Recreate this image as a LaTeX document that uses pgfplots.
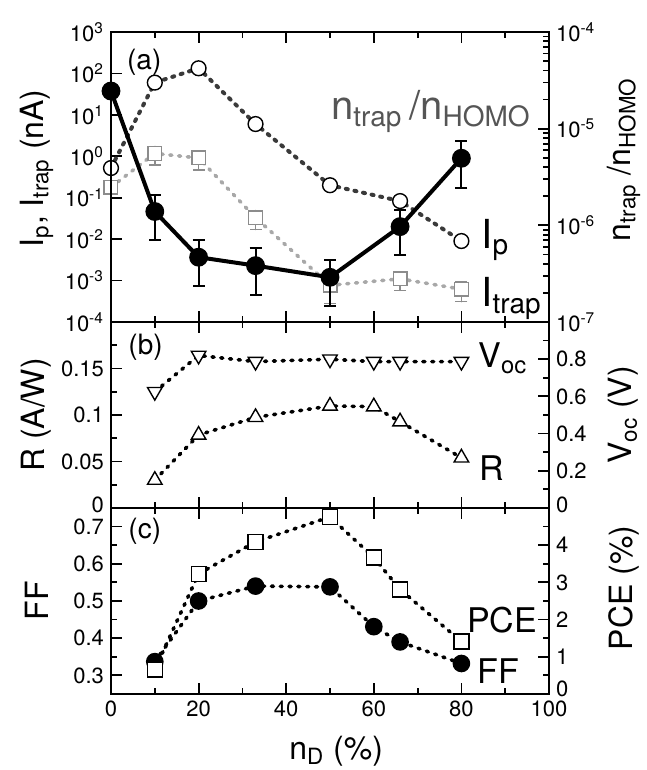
\documentclass[border=0pt]{standalone}
\usepackage{fontspec}
\setmainfont{TeX Gyre Heros}
\usepackage{pgfplots}
\pgfplotsset{compat=1.18}
\definecolor{ipgray}{HTML}{3A3A3A}
\definecolor{trapline}{HTML}{A8A8A8}
\definecolor{trapmark}{HTML}{8C8C8C}
\definecolor{labgray}{HTML}{555555}
\newcommand{\upzero}{\smash{\raisebox{-2.2pt}{0}}}
\newcommand{\upzerob}{\smash{\raisebox{-1.4pt}{0}}}
\tikzset{
  ann/.style={font=\fontsize{15}{17}\selectfont, inner sep=0pt},
  dotline/.style={line width=1.8pt, dash pattern=on 1pt off 3.4pt, line cap=round},
}
\pgfplotsset{
  panel/.style={
    scale only axis, width=219pt, xmin=0, xmax=100,
    xtick={0,20,...,100}, minor xtick={10,30,...,90},
    tick align=inside, major tick length=5.5pt, minor tick length=3pt,
    axis line style={line width=1pt},
    every tick/.style={black, line width=0.9pt},
    tick label style={font=\fontsize{11}{13}\selectfont, inner ysep=0.5pt},
    xticklabel style={yshift=-2.8pt},
    label style={font=\fontsize{16}{18}\selectfont},
    /pgf/number format/assume math mode=true,
    scaled ticks=false,
    clip=false,
  },
  leftax/.style={panel, ytick pos=left,
    ylabel style={at={(rel axis cs:-0.17,0.5)}, anchor=center}},
  rightax/.style={panel, ytick pos=right, yticklabel pos=right,
    xtick=\empty, minor xtick={},
    ylabel style={at={(rel axis cs:1.17,0.5)}, anchor=center}},
}
\begin{document}
\begin{tikzpicture}
\path[use as bounding box] (0,0) rectangle (323.5pt,385pt);

% ---------------- panel (a) left ----------------
\begin{axis}[leftax, at={(55.5pt,224pt)}, anchor=south west, height=145pt,
  ymode=log, ymin=1e-4, ymax=1e3,
  ytick={1e-4,1e-3,1e-2,1e-1,1,1e1,1e2,1e3},
  yticklabels={10\textsuperscript{-4},10\textsuperscript{-3},10\textsuperscript{-2},10\textsuperscript{-1},10\textsuperscript{0},10\textsuperscript{1},10\textsuperscript{2},10\textsuperscript{3}},
  yminorticks=false, xticklabels={},
  ylabel={I\textsubscript{p}, I\textsubscript{trap} (nA)},
  ylabel style={at={(rel axis cs:-0.17,0.53)}}]
\addplot[trapline, dotline, mark=square*,
  mark options={solid, draw=trapmark, fill=white, line width=0.7pt, mark size=3.4pt},
  error bars/.cd, y dir=both, y explicit,
  error bar style={solid, trapmark, line width=0.8pt},
  error mark options={rotate=90, trapmark, mark size=3pt, line width=0.8pt, solid}]
  coordinates {
  (0,0.18) +- (0,0)
  (10,1.17) +- (0,0.55)
  (20,0.91) +- (0,0.44)
  (33,0.033) +- (0,0.016)
  (50,0.00077) +- (0,0.00049)
  (66,0.0011) +- (0,0.00052)
  (80,0.00062) +- (0,0.00031)
  };
\addplot[ipgray, dotline, line width=2pt, mark=*,
  mark options={solid, draw=black, fill=white, line width=0.7pt, mark size=3.7pt}]
  coordinates {(0,0.52)(10,60)(20,133)(33,6)(50,0.2)(66,0.083)(80,0.009)};
\node[ann, anchor=west, font=\fontsize{14}{16}\selectfont] at (rel axis cs:0.036,0.897) {(a)};
\node[ann, anchor=base west, font=\fontsize{20}{22}\selectfont] at (rel axis cs:0.845,0.255) {I\textsubscript{p}};
\node[ann, anchor=base west, font=\fontsize{20}{22}\selectfont] at (rel axis cs:0.845,0.052) {I\textsubscript{trap}};
\node[ann, anchor=base east, text=labgray, font=\fontsize{20}{22}\selectfont] at (rel axis cs:0.959,0.697) {n\textsubscript{trap}\,/n\textsubscript{HOMO}};
\end{axis}

% ---------------- panel (a) right ----------------
\begin{axis}[rightax, at={(55.5pt,224pt)}, anchor=south west, height=145pt,
  ymode=log, ymin=1e-7, ymax=1e-4,
  ytick={1e-7,1e-6,1e-5,1e-4},
  yticklabels={10\textsuperscript{-7},10\textsuperscript{-6},10\textsuperscript{-5},10\textsuperscript{-4}},
  ylabel={n\textsubscript{trap} /n\textsubscript{HOMO}},
  ylabel style={at={(rel axis cs:1.17,0.56)}, font=\fontsize{16}{18}\selectfont}]
\addplot[black, line width=2pt, mark=*, mark options={solid, mark size=3.7pt},
  error bars/.cd, y dir=both, y explicit,
  error bar style={line width=1pt, black},
  error mark options={rotate=90, black, mark size=3pt, line width=1pt}]
  coordinates {
  (0,2.45e-5) +- (0,0)
  (10,1.39e-6) +- (0,0.68e-6)
  (20,4.68e-7) +- (0,2.35e-7)
  (33,3.83e-7) +- (0,1.93e-7)
  (50,2.9e-7) +- (0,1.43e-7)
  (66,9.7e-7) +- (0,4.8e-7)
  (80,4.94e-6) +- (0,2.5e-6)
  };
\end{axis}

% ---------------- panel (b) left ----------------
\begin{axis}[leftax, at={(55.5pt,131pt)}, anchor=south west, height=93pt,
  ymin=0, ymax=0.2, ytick={0,0.05,0.1,0.15}, yticklabels={\upzero,0.05,0.1,0.15},
  minor ytick={0.025,0.075,0.125,0.175}, xticklabels={},
  ylabel={R (A/W)}]
\addplot[black, dotline, mark=triangle*,
  mark options={solid, draw=black, fill=white, line width=0.7pt, mark size=4.2pt}]
  coordinates {(10,0.030)(20,0.0785)(33,0.0975)(50,0.1097)(60,0.109)(66,0.0928)(80,0.054)};
\node[ann, anchor=west, font=\fontsize{14}{16}\selectfont] at (rel axis cs:0.039,0.866) {(b)};
\node[ann, anchor=base west, font=\fontsize{17}{19}\selectfont] at (rel axis cs:0.838,0.753) {V\textsubscript{oc}};
\node[ann, anchor=base west, font=\fontsize{17}{19}\selectfont] at (rel axis cs:0.840,0.150) {R};
\end{axis}

% ---------------- panel (b) right ----------------
\begin{axis}[rightax, at={(55.5pt,131pt)}, anchor=south west, height=93pt,
  ymin=0, ymax=1, ytick={0,0.2,0.4,0.6,0.8}, yticklabels={\upzero,0.2,0.4,0.6,0.8},
  minor ytick={0.1,0.3,0.5,0.7,0.9},
  ylabel={V\textsubscript{oc} (V)}]
\addplot[black, dotline, mark=triangle*, 
  mark options={solid, rotate=180, draw=black, fill=white, line width=0.7pt, mark size=4.2pt}]
  coordinates {(10,0.625)(20,0.82)(33,0.787)(50,0.80)(60,0.787)(66,0.787)(80,0.787)};
\end{axis}

% ---------------- panel (c) left ----------------
\begin{axis}[leftax, at={(55.5pt,38pt)}, anchor=south west, height=93pt,
  ymin=0.25, ymax=0.75, ytick={0.3,0.4,0.5,0.6,0.7}, yticklabels={0.3,0.4,0.5,0.6,0.7},
  minor ytick={0.35,0.45,0.55,0.65},
  xticklabel pos=lower, xticklabels={0,20,40,60,80,100},
  xlabel={n\textsubscript{D} (\%)},
  xlabel style={at={(rel axis cs:0.514,-0.35)}, anchor=base},
  ylabel={FF}]
\addplot[black, dotline, mark=*,
  mark options={solid, mark size=3.5pt}]
  coordinates {(10,0.337)(20,0.50)(33,0.54)(50,0.538)(60,0.431)(66,0.39)(80,0.332)};
\node[ann, anchor=west, font=\fontsize{14}{16}\selectfont] at (rel axis cs:0.039,0.876) {(c)};
\node[ann, anchor=base west, font=\fontsize{17}{19}\selectfont] at (rel axis cs:0.812,0.333) {PCE};
\node[ann, anchor=base west, font=\fontsize{17}{19}\selectfont] at (rel axis cs:0.836,0.059) {FF};
\end{axis}

% ---------------- panel (c) right ----------------
\begin{axis}[rightax, at={(55.5pt,38pt)}, anchor=south west, height=93pt,
  ymin=0, ymax=5, ytick={0,1,2,3,4}, yticklabels={\upzerob,1,2,3,4},
  minor ytick={0.5,1.5,2.5,3.5,4.5},
  ylabel={PCE (\%)},
  ylabel style={at={(rel axis cs:1.17,0.57)}}]
\addplot[black, dotline, mark=square*,
  mark options={solid, draw=black, fill=white, line width=0.7pt, mark size=3.7pt}]
  coordinates {(10,0.66)(20,3.23)(33,4.09)(50,4.76)(60,3.67)(66,2.81)(80,1.41)};
\end{axis}
\end{tikzpicture}
\end{document}
